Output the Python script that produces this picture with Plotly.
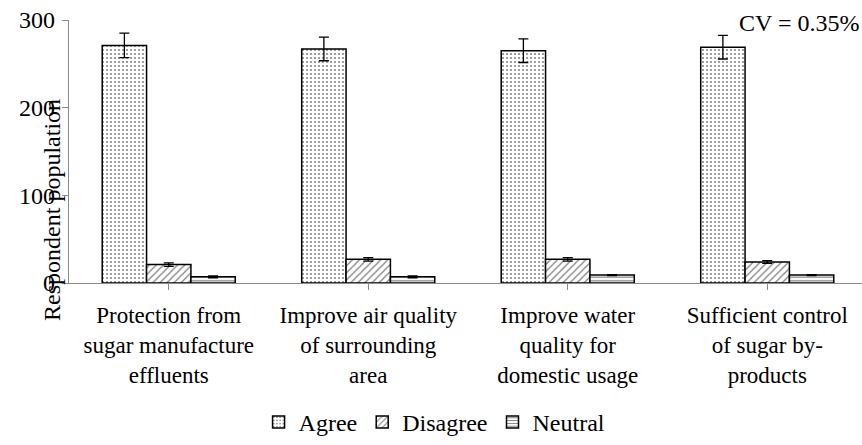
import plotly.graph_objects as go

categories = [
    "Protection from<br>sugar manufacture<br>effluents",
    "Improve air quality<br>of surrounding<br>area",
    "Improve water<br>quality for<br>domestic usage",
    "Sufficient control<br>of sugar by-<br>products",
]
agree = [271, 267, 265, 269]
agree_err = [14, 13.5, 13.5, 13.5]
disagree = [21, 27, 27, 24]
disagree_err = [2, 2, 2, 1.5]
neutral = [7, 7, 9, 9]
neutral_err = [1, 1, 0.5, 0.5]
y_ticks = [0, 100, 200, 300]

FONT = "'Liberation Serif', 'Times New Roman', 'DejaVu Serif', serif"
x = list(range(len(categories)))

fig = go.Figure()
series = [
    ("Agree", agree, agree_err, dict(shape=".", size=4, solidity=0.2)),
    ("Disagree", disagree, disagree_err, dict(shape="/", size=5, solidity=0.25)),
    ("Neutral", neutral, neutral_err, dict(shape="-", size=3.5, solidity=0.35)),
]
for name, vals, err, pat in series:
    fig.add_trace(go.Bar(
        name=name, x=x, y=vals,
        marker=dict(color="white", line=dict(color="black", width=1.5),
                    pattern=dict(fgcolor="black", bgcolor="white", fillmode="overlay", **pat)),
        error_y=dict(type="data", array=err, visible=True, color="black", thickness=1.3, width=5),
    ))

fig.update_layout(
    width=862, height=445,
    margin=dict(l=69, r=0, t=20, b=159),
    paper_bgcolor="white", plot_bgcolor="white",
    barmode="group", bargap=0.333, bargroupgap=0,
    font=dict(family=FONT, size=23, color="black"),
    showlegend=True,
    legend=dict(orientation="h", x=0.461, xanchor="center", y=-0.53, yanchor="middle",
                font=dict(family=FONT, size=24), itemwidth=30, tracegroupgap=0),
    xaxis=dict(
        range=[-0.5, 3.475], tickmode="array", tickvals=x, ticktext=categories,
        tickson="boundaries", ticks="outside", ticklen=6, tickcolor="#8c8c8c",
        showline=True, linecolor="#8c8c8c", linewidth=1.3, showgrid=False,
        tickfont=dict(family=FONT, size=23), ticklabelstandoff=5,
    ),
    yaxis=dict(
        range=[0, 300], tickvals=y_ticks, ticks="outside", ticklen=6, tickcolor="#8c8c8c",
        showline=True, linecolor="#8c8c8c", linewidth=1.3, showgrid=False, zeroline=False,
        tickfont=dict(family=FONT, size=24), ticklabelstandoff=2,
    ),
    annotations=[
        dict(text="Respondent population", xref="paper", yref="paper", x=-0.0214, y=0.278,
             xanchor="center", yanchor="middle", textangle=-90, showarrow=False,
             font=dict(family=FONT, size=24)),
        dict(text="CV = 0.35%", xref="paper", yref="paper", x=0.999, y=0.99,
             xanchor="right", yanchor="middle", showarrow=False,
             font=dict(family=FONT, size=24)),
    ],
)

fig.write_html("out.html")
